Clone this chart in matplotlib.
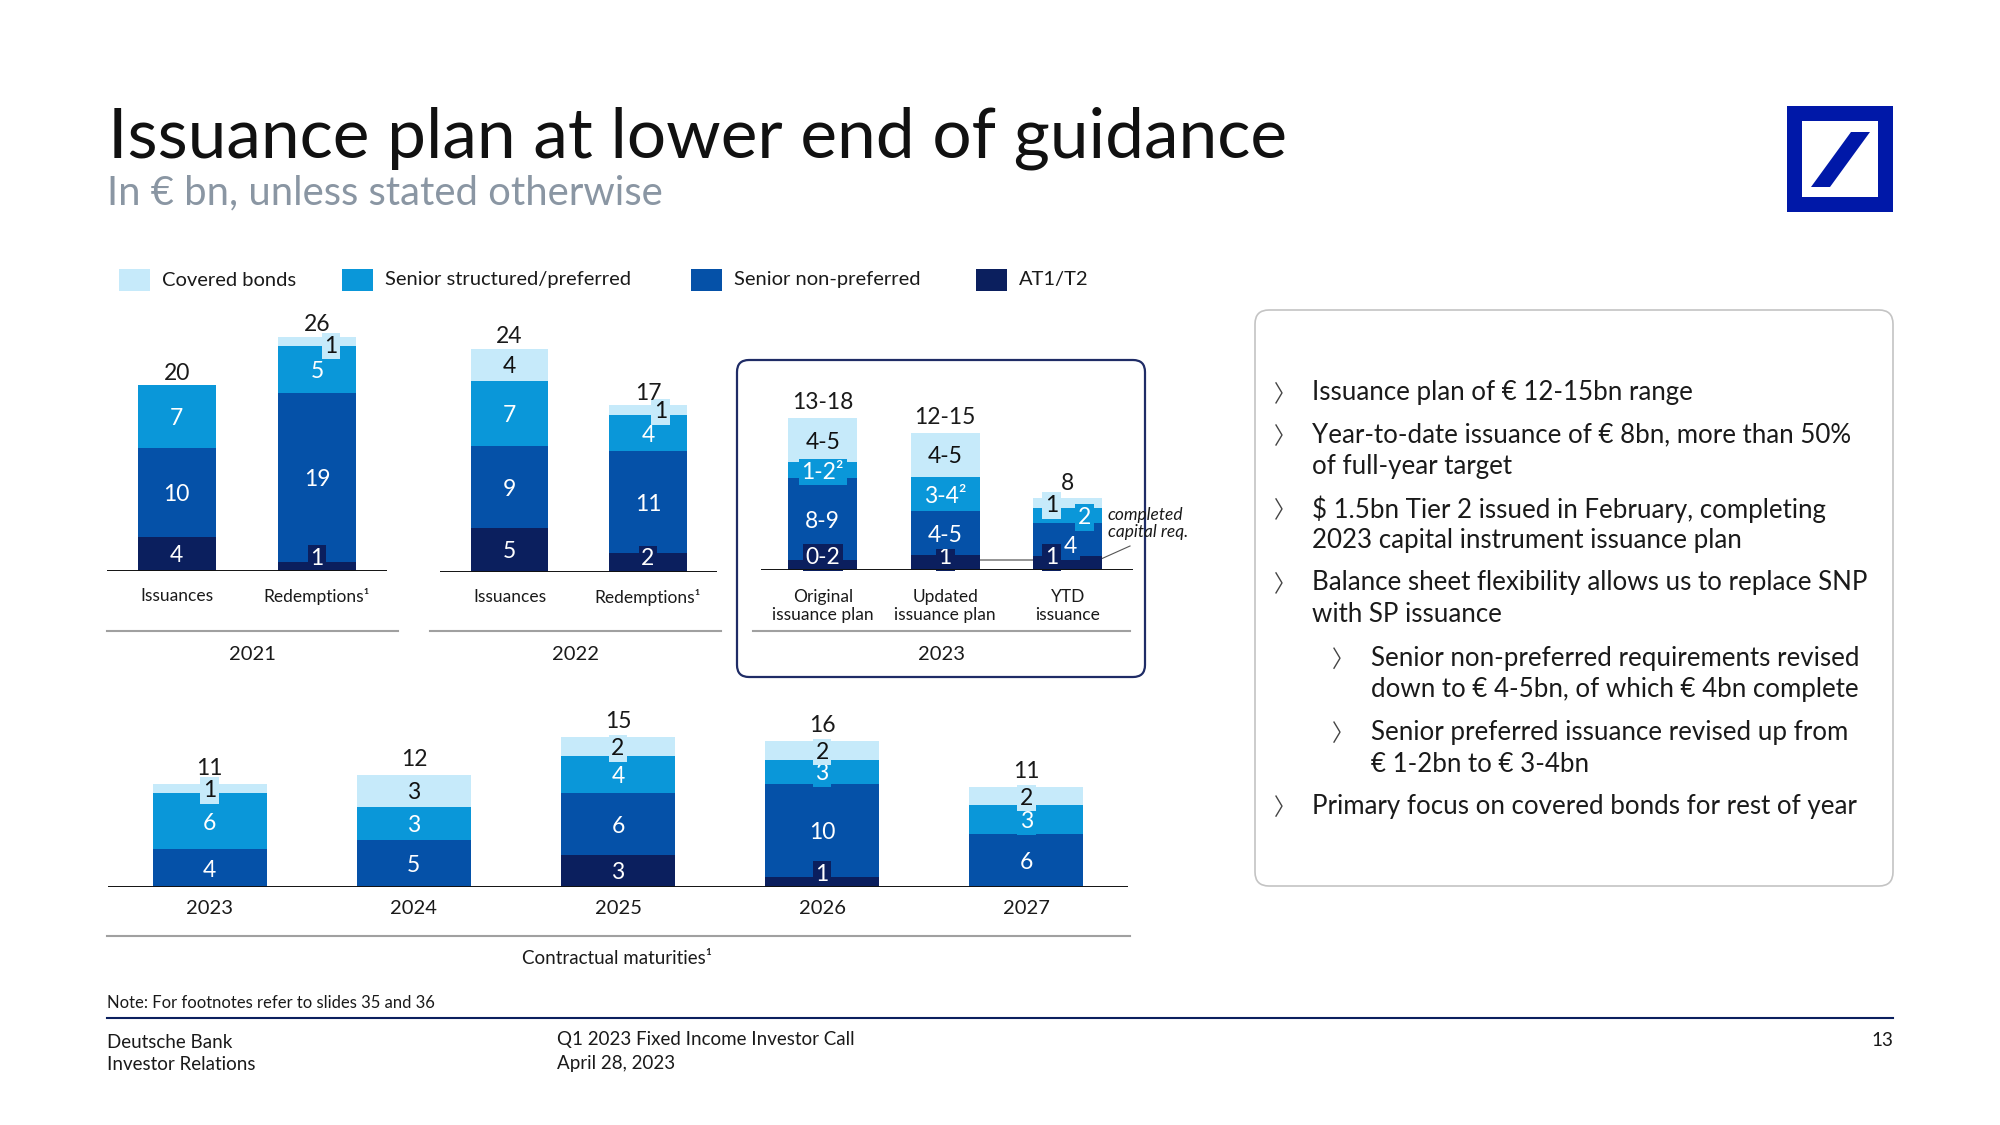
import numpy as np
import matplotlib
matplotlib.use("Agg")
import matplotlib.pyplot as plt
from matplotlib.patches import FancyBboxPatch, Rectangle, Polygon

W, H = 2000, 1125

# ---------------- data ----------------
series = ["Covered bonds", "Senior structured/preferred", "Senior non-preferred", "AT1/T2"]
colors = ["#C6EAFA", "#0A97D9", "#0551A8", "#0B1F5E"]

# stacks are bottom -> top: AT1/T2, SNP, SP, covered
cats_2021 = ["Issuances", "Redemptions¹"]
at1_2021 = [3.7, 1.0]
snp_2021 = [9.7, 18.4]
sp_2021 = [6.8, 5.1]
cov_2021 = [0.0, 1.0]
lbl_2021 = [["4", "10", "7", ""], ["1", "19", "5", "1"]]
tot_2021 = ["20", "26"]

cats_2022 = ["Issuances", "Redemptions¹"]
at1_2022 = [4.7, 2.0]
snp_2022 = [9.0, 11.1]
sp_2022 = [7.1, 4.0]
cov_2022 = [3.5, 1.05]
lbl_2022 = [["5", "9", "7", "4"], ["2", "11", "4", "1"]]
tot_2022 = ["24", "17"]

cats_2023 = ["Original\nissuance plan", "Updated\nissuance plan", "YTD\nissuance"]
at1_2023 = [1.0, 1.5, 1.4]
snp_2023 = [8.4, 4.5, 3.4]
sp_2023 = [1.6, 3.5, 1.5]
cov_2023 = [4.5, 4.5, 1.0]
lbl_2023 = [["0-2", "8-9", "1-2²", "4-5"], ["1", "4-5", "3-4²", "4-5"], ["1", "4", "2", "1"]]
tot_2023 = ["13-18", "12-15", "8"]
cap_req_2023 = 1.0

mat_years = ["2023", "2024", "2025", "2026", "2027"]
at1_mat = [0.0, 0.0, 3.4, 1.0, 0.0]
snp_mat = [4.0, 5.0, 6.6, 10.0, 5.6]
sp_mat = [6.0, 3.5, 4.0, 2.6, 3.1]
cov_mat = [1.0, 3.5, 2.0, 2.0, 2.0]
lbl_mat = [["", "4", "6", "1"], ["", "5", "3", "3"], ["3", "6", "4", "2"],
           ["1", "10", "3", "2"], ["", "6", "3", "2"]]
tot_mat = ["11", "12", "15", "16", "11"]

bullets = [
    (0, ["Issuance plan of € 12-15bn range"]),
    (0, ["Year-to-date issuance of € 8bn, more than 50%", "of full-year target"]),
    (0, ["$ 1.5bn Tier 2 issued in February, completing", "2023 capital instrument issuance plan"]),
    (0, ["Balance sheet flexibility allows us to replace SNP", "with SP issuance"]),
    (1, ["Senior non-preferred requirements revised", "down to € 4-5bn, of which € 4bn complete"]),
    (1, ["Senior preferred issuance revised up from", "€ 1-2bn to € 3-4bn"]),
    (0, ["Primary focus on covered bonds for rest of year"]),
]

# ---------------- figure ----------------
plt.rcParams["font.family"] = ["Lato", "DejaVu Sans"]
TXT = "#1a1a1a"
fig = plt.figure(figsize=(20, 11.25), dpi=100)
fig.patch.set_facecolor("white")

bg = fig.add_axes([0, 0, 1, 1], zorder=0)
bg.set_xlim(0, W)
bg.set_ylim(H, 0)
bg.axis("off")

# title
bg.text(108, 157, "Issuance plan at lower end of guidance", fontsize=50,
        color="#111111", va="baseline")
bg.text(107, 204, "In € bn, unless stated otherwise", fontsize=28.8,
        color="#8a96a3", va="baseline")

# logo
bg.add_patch(Rectangle((1787, 106), 106, 106, color="#0018A8", lw=0))
bg.add_patch(Rectangle((1802, 121), 76, 76, color="white", lw=0))
bg.add_patch(Polygon([(1811, 187), (1830, 187), (1870, 132), (1851, 132)], closed=True,
                     color="#0018A8", lw=0))

# legend
leg_x = [119, 342, 691, 976]
for k, name in enumerate(series):
    bg.add_patch(Rectangle((leg_x[k], 269), 31, 22, color=colors[k], lw=0))
    bg.text(leg_x[k] + 43, 280, name, fontsize=14.5, color=TXT, va="center")


def panel(c0, sp, xlo, xhi, base, top, unit):
    left, right = c0 + xlo * sp, c0 + xhi * sp
    ax = fig.add_axes([left / W, 1 - base / H, (right - left) / W, (base - top) / H], zorder=2)
    ax.set_xlim(xlo, xhi)
    ax.set_ylim(0, (base - top) / unit)
    ax.axis("off")
    ax.axhline(0, color="#111111", lw=1.4, zorder=5)
    return ax


def stacked(ax, stacks, labels, totals, cats, width, tot_off, cat_off, tweaks=None,
            cat_ls=1.2, cat_fs=12.5):
    tweaks = tweaks or {}
    n = len(stacks[0])
    x = np.arange(n)
    bottom = np.zeros(n)
    for s, vals in enumerate(stacks):
        col = colors[3 - s]
        vals = np.asarray(vals, dtype=float)
        ax.bar(x, vals, width, bottom=bottom, color=col, linewidth=0, zorder=2)
        for i in range(n):
            txt = labels[i][s]
            if not txt:
                continue
            dx, dy = tweaks.get((i, s), (0, 0))
            tc = "#111111" if s == 3 else "white"
            box = dict(boxstyle="square,pad=0.12", fc=col, ec="none")
            if s == 0 and vals[i] < 2.5:
                ax.annotate(txt, (i + dx, 0), xytext=(0, 1.5), textcoords="offset points",
                            ha="center", va="bottom", fontsize=16.5, color=tc, bbox=box,
                            zorder=4)
            else:
                ax.text(i + dx, bottom[i] + vals[i] / 2 + dy, txt, ha="center",
                        va="center_baseline", fontsize=16.5, color=tc, bbox=box, zorder=4)
        bottom += vals
    for i in range(n):
        ax.annotate(totals[i], (i, bottom[i]), xytext=(0, tot_off), textcoords="offset points",
                    ha="center", va="center_baseline", fontsize=16.5, color=TXT, zorder=4)
        ax.annotate(cats[i], (i, 0), xytext=(0, -cat_off), textcoords="offset points",
                    ha="center", va="center", fontsize=cat_fs, color=TXT,
                    linespacing=cat_ls, annotation_clip=False)


# 2021
ax1 = panel(176.7, 140.3, -0.5, 1.5, 570.7, 230, 9.17)
stacked(ax1, [at1_2021, snp_2021, sp_2021, cov_2021], lbl_2021, tot_2021, cats_2021,
        0.556, 10, 18.5, tweaks={(1, 3): (0.1, -0.3)})
# 2022
ax2 = panel(509.6, 138.4, -0.5, 1.5, 571.5, 230, 9.17)
stacked(ax2, [at1_2022, snp_2022, sp_2022, cov_2022], lbl_2022, tot_2022, cats_2022,
        0.56, 10, 18.5, tweaks={(1, 3): (0.09, 0)})
# 2023
bg.add_patch(FancyBboxPatch((737, 360), 408, 317, boxstyle="round,pad=0,rounding_size=12",
                            fc="none", ec="#1f2c66", lw=1.6))
ax3 = panel(822.7, 122.5, -0.5, 2.53, 570, 380, 9.8)
stacked(ax3, [at1_2023, snp_2023, sp_2023, cov_2023], lbl_2023, tot_2023, cats_2023,
        0.563, 12.5, 26, tweaks={(2, 0): (-0.13, 0), (2, 1): (0.02, -0.5),
                                 (2, 2): (0.14, 0), (2, 3): (-0.13, 0)}, cat_ls=1.15)
ax3.hlines(cap_req_2023, 1 + 0.563 / 2, 2 - 0.563 / 2, color="#8c8c8c", lw=1.3, zorder=1)
bg.plot([1101, 1130], [559, 546], color="#555555", lw=0.8)
bg.text(1108, 523.5, "completed\ncapital req.", fontsize=12.5, style="italic", color=TXT,
        va="center", linespacing=1.1)

# maturities
ax4 = panel(209.8, 204.1, -0.5, 4.5, 886.7, 700, 9.35)
stacked(ax4, [at1_mat, snp_mat, sp_mat, cov_mat], lbl_mat, tot_mat, mat_years,
        0.556, 12.5, 15.5, cat_fs=14.5)

# separators and group labels
for x0, x1, y, lab, xc, yl in [(107, 398, 630.7, "2021", 252.5, 654.5),
                               (430, 721, 630.7, "2022", 575.3, 654.5),
                               (753, 1130, 630.7, "2023", 941.3, 654.5),
                               (107, 1130, 936, "Contractual maturities¹", 617.3, 959)]:
    bg.plot([x0, x1], [y, y], color="#a0a0a0", lw=1.5)
    bg.text(xc, yl, lab, fontsize=14.5 if lab[0] == "2" else 13.5, color=TXT,
            ha="center", va="center")

# right text box
bg.add_patch(FancyBboxPatch((1255, 310), 638, 576, boxstyle="round,pad=0,rounding_size=14",
                            fc="none", ec="#c4c4c4", lw=1.2))
line_y = [392.9, 435, 466.8, 508.9, 540.8, 582.9, 614.8, 658.2, 690, 732.1, 764, 806.1]
k = 0
for lvl, lines in bullets:
    cx = 1276 if lvl == 0 else 1334
    tx = 1312.5 if lvl == 0 else 1371
    y0 = line_y[k]
    bg.plot([cx, cx + 6, cx], [y0 - 10, y0, y0 + 10], color="#444444", lw=1.0)
    for ln in lines:
        bg.text(tx, line_y[k], ln, fontsize=18.6, color=TXT, va="center")
        k += 1

# footer
bg.text(107, 1003, "Note: For footnotes refer to slides 35 and 36", fontsize=12, color=TXT,
        va="center")
bg.plot([107, 1893], [1018, 1018], color="#0B1F5E", lw=1.5)
bg.text(107, 1042, "Deutsche Bank", fontsize=13.5, color=TXT, va="center")
bg.text(107, 1064, "Investor Relations", fontsize=13.5, color=TXT, va="center")
bg.text(557, 1040, "Q1 2023 Fixed Income Investor Call", fontsize=13.5, color=TXT, va="center")
bg.text(557, 1063, "April 28, 2023", fontsize=13.5, color=TXT, va="center")
bg.text(1893, 1040, "13", fontsize=13.5, color=TXT, va="center", ha="right")

fig.savefig("out.png", dpi=100, facecolor="white")
